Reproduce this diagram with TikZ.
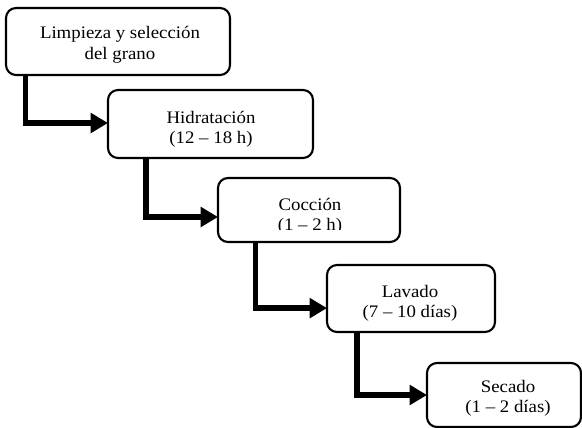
\documentclass[tikz,border=0pt]{standalone}
\usepackage{fontspec}
\setmainfont[FakeStretch=1.07]{Liberation Serif}
\usetikzlibrary{arrows.meta}
\begin{document}
\begin{tikzpicture}[x=0.75pt,y=-0.75pt,
  box/.style={draw=black,line width=1.6pt,rounded corners=7.5pt,fill=white,inner sep=0pt,outer sep=0pt},
  txt/.style={anchor=base,inner sep=0pt,font=\fontsize{13.2}{15}\selectfont},
  conn/.style={line width=4.2pt,line join=miter,-{Triangle[length=13pt,width=14.5pt]}}]
\useasboundingbox (0,0) rectangle (582,428);
\node[box,minimum width=168pt,minimum height=50.25pt] (b1) at (118,41.5) {};
\node[box,minimum width=153.75pt,minimum height=51pt] (b2) at (210.5,124) {};
\node[box,minimum width=136.5pt,minimum height=48pt] (b3) at (309,210) {};
\node[box,minimum width=126pt,minimum height=50.25pt] (b4) at (411,298.5) {};
\node[box,minimum width=115.5pt,minimum height=48pt] (b5) at (504,395) {};
\node[txt] (t1a) at (120,39) {Limpieza y selección};
\node[txt] (t1b) at (120,60) {del grano};
\node[txt] (t2a) at (211,123) {Hidratación};
\node[txt] (t2b) at (211,143) {(12 – 18 h)};
\begin{scope}
\clip (220,180) rectangle (398,229);
\node[txt] (t3a) at (310,210.5) {Cocción};
\node[txt] (t3b) at (310,230.5) {(1 – 2 h)};
\end{scope}
\node[txt] (t4a) at (410,297) {Lavado};
\node[txt] (t4b) at (410,317) {(7 – 10 días)};
\begin{scope}
\clip (429,365) rectangle (579,417);
\node[txt] (t5a) at (508,392.5) {Secado};
\node[txt] (t5b) at (508,412.5) {(1 – 2 días)};
\end{scope}
\draw[conn] ([xshift=14.6pt]b1.south west) |- ([yshift=0.75pt]b2.west);
\draw[conn] ([xshift=28.5pt]b2.south west) |- ([yshift=-5.25pt]b3.west);
\draw[conn] ([xshift=28pt]b3.south west) |- ([yshift=-7.2pt]b4.west);
\draw[conn] ([xshift=22.5pt]b4.south west) |- ([yshift=0pt]b5.west);
\end{tikzpicture}
\end{document}
